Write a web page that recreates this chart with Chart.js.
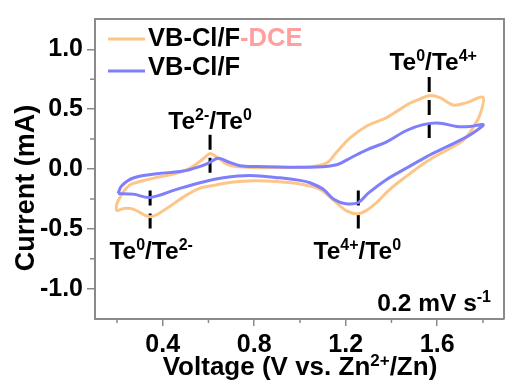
<!DOCTYPE html>
<html>
<head>
<meta charset="utf-8">
<script src="https://cdn.jsdelivr.net/npm/chart.js@4.4.1/dist/chart.umd.min.js"></script>
<style>
  html, body { margin: 0; padding: 0; background: #fff; }
</style>
</head>
<body>
<canvas id="cv" width="506" height="387"></canvas>
<script>
// VB-Cl/F-DCE loop (voltage V, current mA)
const dceV = [0.213, 0.228, 0.260, 0.301, 0.374, 0.446, 0.520, 0.577, 0.607, 0.636, 0.680, 0.720, 0.800, 0.900, 1.000, 1.060,
  1.117, 1.160, 1.219, 1.292, 1.379, 1.430, 1.480, 1.525, 1.568, 1.612, 1.670, 1.729, 1.800,
  1.788, 1.758, 1.714, 1.641, 1.554, 1.466, 1.393, 1.335, 1.292, 1.255, 1.204, 1.146, 1.088, 1.000, 0.900, 0.800,
  0.700, 0.630, 0.563, 0.490, 0.417, 0.345, 0.271, 0.230, 0.200, 0.200, 0.213];
const dceI = [-0.238, -0.19, -0.13, -0.105, -0.07, -0.042, 0.008, 0.085, 0.13, 0.10, 0.04, 0.02, 0.012, 0.012, 0.015, 0.022,
  0.05, 0.14, 0.26, 0.36, 0.43, 0.49, 0.55, 0.585, 0.615, 0.596, 0.535, 0.555, 0.60,
  0.46, 0.35, 0.24, 0.158, 0.063, -0.06, -0.17, -0.28, -0.345, -0.374, -0.35, -0.26, -0.17, -0.125, -0.105, -0.098,
  -0.11, -0.135, -0.16, -0.235, -0.33, -0.40, -0.335, -0.33, -0.347, -0.29, -0.238];

// VB-Cl/F loop
const clfV = [0.205, 0.220, 0.271, 0.374, 0.490, 0.563, 0.600, 0.643, 0.680, 0.738, 0.810, 0.913, 1.073, 1.160, 1.219,
  1.292, 1.379, 1.466, 1.539, 1.612, 1.685, 1.743, 1.801,
  1.772, 1.729, 1.641, 1.554, 1.466, 1.379, 1.300, 1.255, 1.200, 1.146, 1.102, 1.044, 1.000, 0.913, 0.780,
  0.665, 0.563, 0.461, 0.345, 0.271, 0.205];
const clfI = [-0.205, -0.142, -0.075, -0.04, -0.017, 0.022, 0.05, 0.09, 0.065, 0.028, 0.02, 0.016, 0.016, 0.035, 0.09,
  0.16, 0.227, 0.322, 0.371, 0.383, 0.355, 0.355, 0.371,
  0.322, 0.268, 0.186, 0.104, 0.008, -0.087, -0.2, -0.28, -0.29, -0.25, -0.17, -0.115, -0.095, -0.074, -0.055,
  -0.074, -0.115, -0.17, -0.238, -0.21, -0.205];

const xTicks = [0.4, 0.8, 1.2, 1.6];
const xMinor = [0.2, 0.6, 1.0, 1.4, 1.8];
const yTicks = [-1.0, -0.5, 0.0, 0.5, 1.0];
const yMinor = [-0.75, -0.25, 0.25, 0.75];

// peak markers: voltage, top and bottom of the dashed mark
const markV = [0.607, 1.565, 0.345, 1.255];
const markTop = [0.287, 0.77, -0.18, -0.18];
const markBot = [-0.049, 0.213, -0.54, -0.54];

const FONT = '"Liberation Sans", Arial, sans-serif';
const ORANGE = '#fdc587';
const BLUE = '#7f7ffc';
const GRAY = '#8a8a8a';

function pts(xs, ys) { return xs.map((v, i) => ({ x: v, y: ys[i] })); }

// draws text with superscript parts: [text, isSup, color]
function rich(ctx, parts, x, y, align, size) {
  const big = 'bold ' + size + 'px ' + FONT;
  const small = 'bold ' + Math.round(size * 0.65) + 'px ' + FONT;
  let w = 0;
  parts.forEach(p => { ctx.font = p[1] ? small : big; w += ctx.measureText(p[0]).width; });
  let cx = align === 'center' ? x - w / 2 : align === 'right' ? x - w : x;
  ctx.textAlign = 'left';
  ctx.textBaseline = 'alphabetic';
  parts.forEach(p => {
    ctx.font = p[1] ? small : big;
    ctx.fillStyle = p[2] || '#000';
    ctx.fillText(p[0], cx, p[1] ? y - size * 0.36 : y);
    cx += ctx.measureText(p[0]).width;
  });
}

const extras = {
  id: 'extras',
  afterDraw(chart) {
    const ctx = chart.ctx, xs = chart.scales.x, ys = chart.scales.y, a = chart.chartArea;
    ctx.save();
    // top and right frame
    ctx.strokeStyle = GRAY;
    ctx.lineWidth = 2;
    ctx.beginPath();
    ctx.moveTo(a.left, a.top); ctx.lineTo(a.right, a.top); ctx.lineTo(a.right, a.bottom);
    ctx.stroke();
    // minor ticks
    ctx.lineWidth = 1.5;
    ctx.beginPath();
    xMinor.forEach(v => { const p = xs.getPixelForValue(v); ctx.moveTo(p, a.bottom); ctx.lineTo(p, a.bottom + 4); });
    yMinor.forEach(v => { const p = ys.getPixelForValue(v); ctx.moveTo(a.left, p); ctx.lineTo(a.left - 5, p); });
    ctx.stroke();

    // legend
    ctx.lineWidth = 3;
    ctx.strokeStyle = ORANGE;
    ctx.beginPath(); ctx.moveTo(108, 39); ctx.lineTo(145, 39); ctx.stroke();
    ctx.strokeStyle = BLUE;
    ctx.beginPath(); ctx.moveTo(108, 71); ctx.lineTo(145, 71); ctx.stroke();
    rich(ctx, [['VB-Cl/F'], ['-DCE', false, '#ff9f9f']], 148, 46, 'left', 25.5);
    rich(ctx, [['VB-Cl/F']], 148, 75, 'left', 25.5);

    // peak labels
    const lab = [
      [[['Te'], ['2-', true], ['/Te'], ['0', true]], 0, -6, 0],
      [[['Te'], ['0', true], ['/Te'], ['4+', true]], 1, -7, 4],
      [[['Te'], ['0', true], ['/Te'], ['2-', true]], 2, 25, 1],
      [[['Te'], ['4+', true], ['/Te'], ['0', true]], 3, 25, -1]
    ];
    lab.forEach(l => {
      const i = l[1];
      const px = xs.getPixelForValue(markV[i]) + l[3];
      const py = l[2] < 0 ? ys.getPixelForValue(markTop[i]) + l[2] : ys.getPixelForValue(markBot[i]) + l[2];
      rich(ctx, l[0], px, py, 'center', 24.5);
    });

    // scan rate
    rich(ctx, [['0.2 mV s'], ['-1', true]], 491, 311, 'right', 24.5);

    // axis titles
    rich(ctx, [['Voltage (V vs. Zn'], ['2+', true], ['/Zn)']], 300, 375, 'center', 26);
    ctx.save();
    ctx.translate(34, 188);
    ctx.rotate(-Math.PI / 2);
    rich(ctx, [['Current (mA)']], 0, 0, 'center', 27);
    ctx.restore();
    ctx.restore();
  }
};

const datasets = [
  { data: pts(dceV, dceI), borderColor: ORANGE, borderWidth: 3, order: 2 },
  { data: pts(clfV, clfI), borderColor: BLUE, borderWidth: 3, order: 1 }
];
markV.forEach((v, i) => {
  datasets.push({ data: [{ x: v, y: markTop[i] }, { x: v, y: markBot[i] }], borderColor: '#000',
    borderWidth: 3, borderDash: [15, 8], tension: 0, order: 3 });
});
datasets.forEach(d => { d.showLine = true; d.pointRadius = 0; d.fill = false; if (d.tension === undefined) d.tension = 0.35; });

new Chart(document.getElementById('cv').getContext('2d'), {
  type: 'scatter',
  data: { datasets: datasets },
  options: {
    responsive: false,
    animation: false,
    devicePixelRatio: 1,
    layout: { padding: { top: 13, right: 2, left: 0, bottom: 0 } },
    plugins: { legend: { display: false }, tooltip: { enabled: false } },
    scales: {
      x: {
        type: 'linear', min: 0.104, max: 1.892,
        afterFit: s => { s.height = 68; },
        afterBuildTicks: s => { s.ticks = xTicks.map(v => ({ value: v })); },
        grid: { drawOnChartArea: false, drawTicks: true, tickLength: 7, color: GRAY, lineWidth: 1.5 },
        border: { display: true, color: GRAY, width: 2 },
        ticks: { font: { family: FONT, size: 25, weight: 'bold' }, color: '#000', padding: 4, maxRotation: 0, autoSkip: false,
          callback: v => v.toFixed(1) }
      },
      y: {
        type: 'linear', min: -1.254, max: 1.254,
        afterFit: s => { s.width = 95; },
        afterBuildTicks: s => { s.ticks = yTicks.map(v => ({ value: v })); },
        grid: { drawOnChartArea: false, drawTicks: true, tickLength: 8, color: GRAY, lineWidth: 1.5 },
        border: { display: true, color: GRAY, width: 2 },
        ticks: { font: { family: FONT, size: 25, weight: 'bold' }, color: '#000', padding: 4, autoSkip: false,
          callback: v => v.toFixed(1) }
      }
    }
  },
  plugins: [extras]
});
</script>
</body>
</html>
